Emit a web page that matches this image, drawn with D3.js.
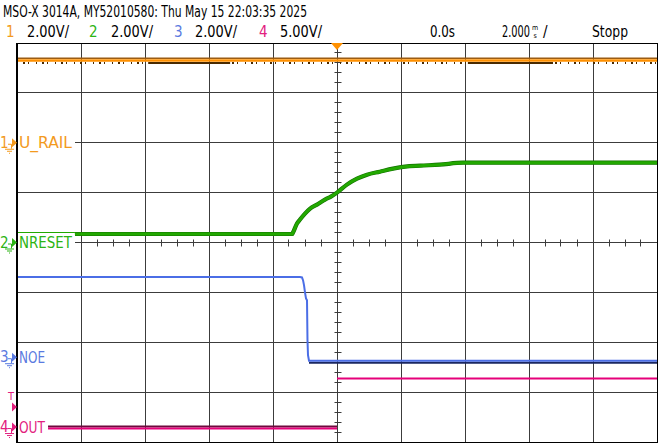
<!DOCTYPE html>
<html>
<head>
<meta charset="utf-8">
<script src="https://cdn.jsdelivr.net/npm/d3@7"></script>
<style>
body { margin: 0; background: #fff; }
svg { display: block; font-family: "Liberation Sans Narrow", "DejaVu Sans Condensed", "Liberation Sans", sans-serif; }
</style>
</head>
<body>
<svg id="scope" width="660" height="446"></svg>
<script>
// ---- data (time in ms, volts) ----
var headerText = "MSO-X 3014A, MY52010580: Thu May 15 22:03:35 2025";
var timeLabel = "0.0s";
var timebaseLabel = "2.000";
var runLabel = "Stopp";

var channelIds    = [1, 2, 3, 4];
var channelNames  = ["U_RAIL", "NRESET", "NOE", "OUT"];
var voltsPerDiv   = [2, 2, 2, 5];
var centerVolts   = [-4, 0, 4.6, 18.5];   // voltage at screen centre
var scaleLabels   = ["2.00V/", "2.00V/", "2.00V/", "5.00V/"];
var triggerLevel  = 2.0;                  // on channel 4

var ch1Time  = [-10, 10];
var ch1Volts = [3.3, 3.3];

var ch2Time  = [-8.19, -1.4, -1.375, -1.25, -1.156, -1.0, -0.84, -0.625, -0.375, -0.19, 0, 0.31, 0.625, 0.94, 1.34, 1.75, 2.125, 2.6, 3.2, 3.94, 10];
var ch2Volts = [0.34, 0.34, 0.40, 0.76, 0.92, 1.16, 1.36, 1.52, 1.72, 1.84, 2.0, 2.32, 2.56, 2.72, 2.84, 2.96, 3.04, 3.08, 3.12, 3.2, 3.2];

var ch3Time  = [-10, -1.156, -1.094, -1.06, -1.03, -1.0, -0.969, -0.9375, -0.922, -0.906, -0.875, 10];
var ch3Volts = [3.22, 3.22, 3.2, 3.08, 2.88, 2.6, 2.36, 2.28, 0.68, 0.08, -0.14, -0.14];

var ch4Time  = [-9.03, 0, null, 0, 10];
var ch4Volts = [-0.15, -0.15, null, 4.87, 4.87];

// dense noise bands under the U_RAIL trace
var ch1NoiseStart = [-5.9, 4.09];
var ch1NoiseEnd   = [-3.34, 6.75];

var colors = ["#ff9000", "#22a800", "#4b6ee6", "#e6007a"];
var labelColors = ["#f39a1e", "#2cb414", "#5a7ae0", "#e2207e"];

// ---- layout ----
var svg = d3.select("#scope");
var plotLeft = 17, plotRight = 657, plotTop = 43, plotBottom = 442;

var x = d3.scaleLinear().domain([-10, 10]).range([plotLeft, plotRight]);
var divY = d3.scaleLinear().domain([0, 8]).range([plotTop, plotBottom]);

var channels = channelIds.map(function(id, i) {
    return {
        id: id,
        name: channelNames[i],
        color: colors[i],
        labelColor: labelColors[i],
        y: d3.scaleLinear()
            .domain([centerVolts[i] - 4 * voltsPerDiv[i], centerVolts[i] + 4 * voltsPerDiv[i]])
            .range([plotBottom, plotTop])
    };
});

function px(v) { return Math.floor(v) + 0.5; }

// ---- header ----
svg.append("text")
    .attr("x", 3).attr("y", 17)
    .attr("font-size", 15)
    .attr("textLength", 304).attr("lengthAdjust", "spacingAndGlyphs")
    .text(headerText);

var digitX = [6, 89, 174, 259];
var scaleX = [27, 111, 195, 280];
channels.forEach(function(ch, i) {
    svg.append("text")
        .attr("x", digitX[i]).attr("y", 37)
        .attr("font-size", 15)
        .attr("fill", ch.labelColor)
        .text(ch.id);
    svg.append("text")
        .attr("x", scaleX[i]).attr("y", 37)
        .attr("font-size", 15)
        .attr("textLength", 42).attr("lengthAdjust", "spacingAndGlyphs")
        .text(scaleLabels[i]);
});

svg.append("text").attr("x", 430).attr("y", 37).attr("font-size", 15)
    .attr("textLength", 25).attr("lengthAdjust", "spacingAndGlyphs")
    .text(timeLabel);

var tb = svg.append("text").attr("x", 502).attr("y", 37).attr("font-size", 15);
tb.append("tspan").attr("textLength", 28).attr("lengthAdjust", "spacingAndGlyphs").text(timebaseLabel);
tb.append("tspan").attr("x", 532).attr("y", 29.5).attr("font-size", 7).text("m");
tb.append("tspan").attr("x", 533.5).attr("y", 38).attr("font-size", 7).text("s");
tb.append("tspan").attr("x", 543).attr("y", 37).text("/");

svg.append("text").attr("x", 592).attr("y", 37).attr("font-size", 15)
    .attr("textLength", 36).attr("lengthAdjust", "spacingAndGlyphs")
    .text(runLabel);

// ---- grid ----
var grid = svg.append("g")
    .attr("stroke", "#3c3c3c")
    .attr("stroke-width", 1);

grid.selectAll("line.v")
    .data(d3.range(-8, 10, 2))
    .join("line")
    .attr("class", "v")
    .attr("x1", d => px(x(d))).attr("x2", d => px(x(d)))
    .attr("y1", plotTop).attr("y2", plotBottom);

grid.selectAll("line.h")
    .data(d3.range(1, 8))
    .join("line")
    .attr("class", "h")
    .attr("x1", plotLeft).attr("x2", plotRight)
    .attr("y1", d => px(divY(d))).attr("y2", d => px(divY(d)));

// centre axis minor ticks
var cy = px(divY(4)), cx = px(x(0));
grid.selectAll("line.tx")
    .data(d3.range(-10, 10.01, 0.5))
    .join("line")
    .attr("class", "tx")
    .attr("x1", d => px(x(d))).attr("x2", d => px(x(d)))
    .attr("y1", cy - 3).attr("y2", cy + 4);
grid.selectAll("line.ty")
    .data(d3.range(0, 40.01, 1))
    .join("line")
    .attr("class", "ty")
    .attr("x1", cx - 3).attr("x2", cx + 4)
    .attr("y1", d => px(divY(d / 5))).attr("y2", d => px(divY(d / 5)));

// ---- traces ----
svg.append("clipPath").attr("id", "plot")
    .append("rect").attr("x", plotLeft).attr("y", plotTop + 1)
    .attr("width", plotRight - plotLeft).attr("height", plotBottom - plotTop - 1);

var traces = svg.append("g").attr("clip-path", "url(#plot)");

function series(times, volts) {
    return times.map(function(t, i) { return { t: t, v: volts[i] }; });
}

function lineFor(ch) {
    return d3.line()
        .defined(d => d.t !== null)
        .x(d => x(d.t))
        .y(d => ch.y(d.v));
}

var c1 = channels[0], c2 = channels[1], c3 = channels[2], c4 = channels[3];

// channel 1
var s1 = series(ch1Time, ch1Volts);
traces.append("path").datum(s1)
    .attr("d", lineFor(c1)).attr("transform", "translate(0,-2.2)")
    .attr("fill", "none").attr("stroke", "#9c5c12").attr("stroke-width", 1.6);
traces.selectAll("line.n1")
    .data(ch1NoiseStart)
    .join("line")
    .attr("class", "n1")
    .attr("x1", d => x(d)).attr("x2", (d, i) => x(ch1NoiseEnd[i]))
    .attr("y1", c1.y(ch1Volts[0]) + 2.5).attr("y2", c1.y(ch1Volts[0]) + 2.5)
    .attr("stroke", "#4a2a00").attr("stroke-width", 2);
traces.append("path").datum(s1)
    .attr("d", lineFor(c1)).attr("transform", "translate(0,2.5)")
    .attr("fill", "none").attr("stroke", "#4a2a00").attr("stroke-width", 2)
    .attr("stroke-dasharray", "1,5,2,3,1,7");
traces.append("path").datum(s1)
    .attr("d", lineFor(c1))
    .attr("fill", "none").attr("stroke", c1.color).attr("stroke-width", 2.6);

// channel 2
var s2 = series(ch2Time, ch2Volts);
traces.append("line")
    .attr("x1", plotLeft).attr("x2", x(ch2Time[0]))
    .attr("y1", px(c2.y(ch2Volts[0]) - 1.5)).attr("y2", px(c2.y(ch2Volts[0]) - 1.5))
    .attr("stroke", c2.color).attr("stroke-width", 1);
traces.append("path").datum(s2)
    .attr("d", lineFor(c2).curve(d3.curveMonotoneX))
    .attr("fill", "none").attr("stroke", "#137000").attr("stroke-width", 4.2);
traces.append("path").datum(s2)
    .attr("d", lineFor(c2).curve(d3.curveMonotoneX))
    .attr("fill", "none").attr("stroke", c2.color).attr("stroke-width", 3);

// channel 3
var s3 = series(ch3Time, ch3Volts);
var dropEnd = ch3Time[ch3Time.length - 2];
traces.append("path").datum(s3.filter(d => d.t >= dropEnd))
    .attr("d", lineFor(c3)).attr("transform", "translate(0,2)")
    .attr("fill", "none").attr("stroke", "#1a2660").attr("stroke-width", 2);
traces.append("path").datum(s3.filter(d => d.t < dropEnd - 0.3))
    .attr("d", lineFor(c3)).attr("transform", "translate(0,1.5)")
    .attr("fill", "none").attr("stroke", "#1a2660").attr("stroke-width", 2)
    .attr("stroke-dasharray", "1,9,2,6,1,12");
traces.append("path").datum(s3)
    .attr("d", lineFor(c3))
    .attr("fill", "none").attr("stroke", c3.color).attr("stroke-width", 2);

// channel 4
var s4 = series(ch4Time, ch4Volts);
traces.append("path").datum(s4.slice(0, 2))
    .attr("d", lineFor(c4)).attr("transform", "translate(0,-2)")
    .attr("fill", "none").attr("stroke", "#6c0a3c").attr("stroke-width", 2);
traces.append("path").datum(s4)
    .attr("d", lineFor(c4))
    .attr("fill", "none").attr("stroke", c4.color).attr("stroke-width", 2);

// border
svg.append("line").attr("x1", 17).attr("x2", 17).attr("y1", plotTop).attr("y2", plotBottom + 1)
    .attr("stroke", "#000").attr("stroke-width", 2);
svg.append("line").attr("x1", 16).attr("x2", plotRight + 1).attr("y1", 43.5).attr("y2", 43.5)
    .attr("stroke", "#000");
svg.append("line").attr("x1", 16).attr("x2", plotRight + 1).attr("y1", 442.5).attr("y2", 442.5)
    .attr("stroke", "#000");
svg.append("line").attr("x1", 657.5).attr("x2", 657.5).attr("y1", plotTop).attr("y2", plotBottom + 1)
    .attr("stroke", "#000");

// ---- left channel markers and labels ----
var labelWidths = [53, 53, 26, 26];
channels.forEach(function(ch, i) {
    var g0 = ch.y(0);
    svg.append("rect")
        .attr("x", 18).attr("y", g0 - 8)
        .attr("width", labelWidths[i] + 4).attr("height", 15)
        .attr("fill", "#fff");
    var m = svg.append("g").attr("fill", ch.labelColor).attr("stroke", ch.labelColor);
    m.append("text")
        .attr("x", 0).attr("y", g0 + 5)
        .attr("font-size", 15).attr("stroke", "none")
        .text(ch.id);
    m.append("path")
        .attr("d", "M8," + (g0 + 1.5) + "H11.5V" + (g0 + 6))
        .attr("fill", "none").attr("stroke-width", 1);
    m.append("path")
        .attr("d", "M5," + (g0 + 6.5) + "H14M7," + (g0 + 8.5) + "H12M9," + (g0 + 10.5) + "H10")
        .attr("fill", "none").attr("stroke-width", 1);
    m.append("path")
        .attr("d", "M12," + (g0 - 4.5) + "L17," + g0 + "L12," + (g0 + 4.5) + "Z")
        .attr("stroke", "none");
    svg.append("text")
        .attr("x", 19).attr("y", g0 + 5.5)
        .attr("font-size", 16)
        .attr("fill", ch.labelColor)
        .attr("textLength", labelWidths[i]).attr("lengthAdjust", "spacingAndGlyphs")
        .text(ch.name);
});

// trigger level marker (channel 4)
var ty = c4.y(triggerLevel);
svg.append("text")
    .attr("x", 8).attr("y", ty - 7)
    .attr("font-size", 11)
    .attr("fill", c4.labelColor)
    .text("T");
svg.append("path")
    .attr("d", "M12," + (ty - 4.5) + "L17," + ty + "L12," + (ty + 4.5) + "Z")
    .attr("fill", c4.labelColor);

// trigger position marker
svg.append("path")
    .attr("d", "M" + (x(0) - 6) + "," + plotTop + "H" + (x(0) + 6) + "L" + x(0) + "," + (plotTop + 7) + "Z")
    .attr("fill", colors[0]);
</script>
</body>
</html>
